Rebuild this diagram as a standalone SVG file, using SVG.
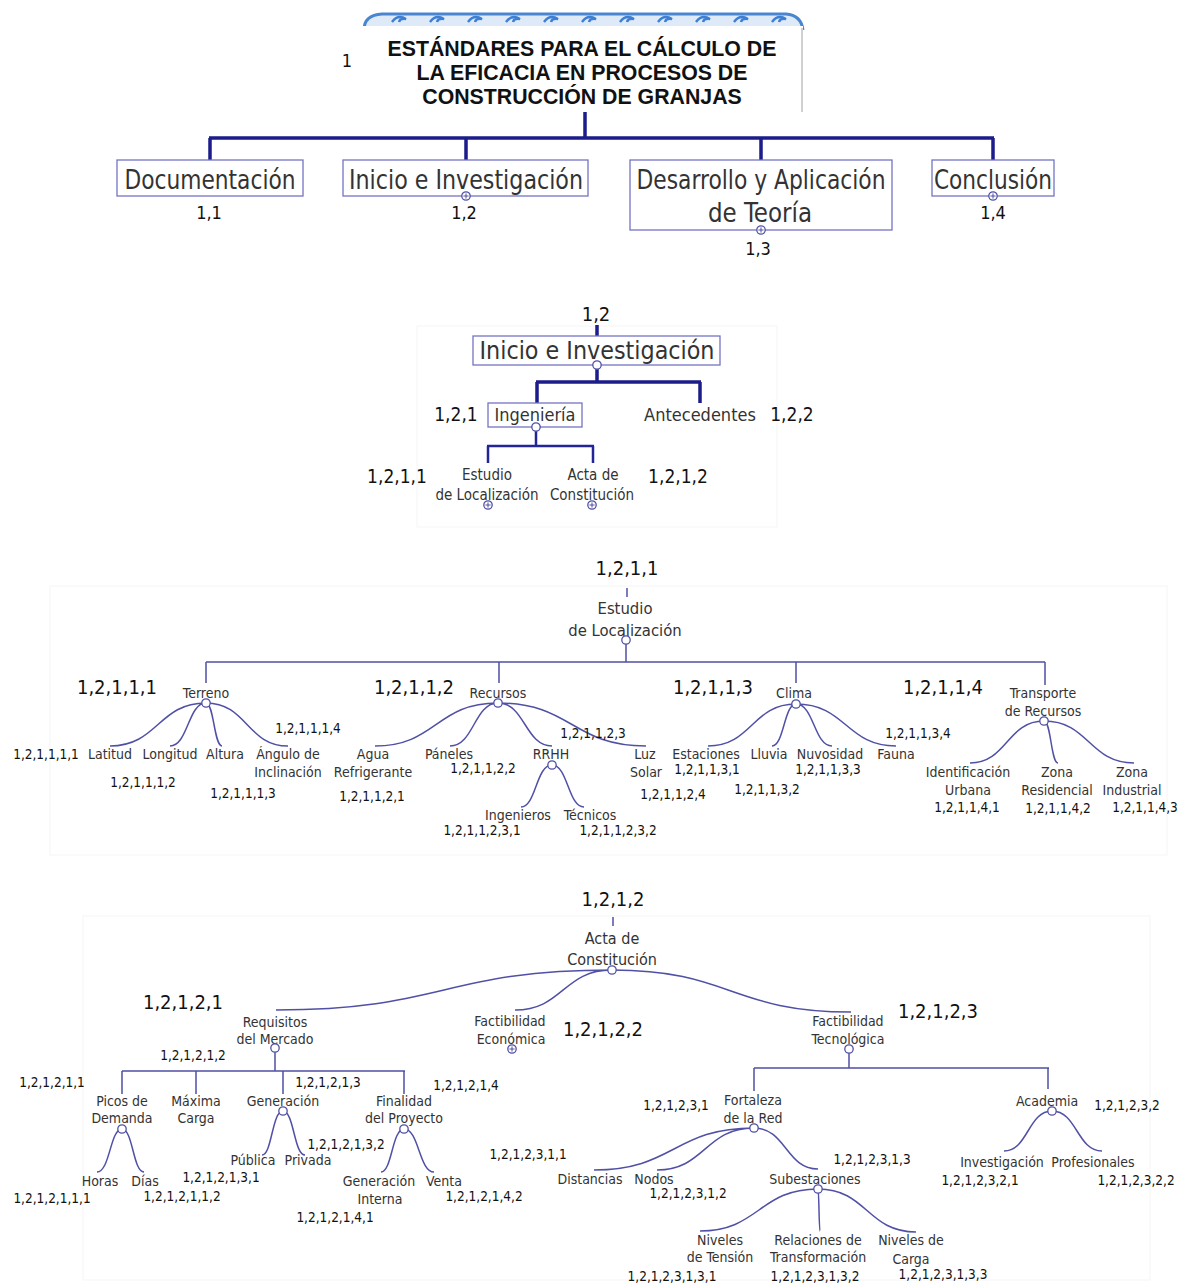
<svg xmlns="http://www.w3.org/2000/svg" width="1187" height="1288" viewBox="0 0 1187 1288">
<style>
.bg{fill:#ffffff}
.panel{fill:#ffffff;stroke:#f5f5f5;stroke-width:1}
.t{font-family:"DejaVu Sans Condensed","DejaVu Sans",sans-serif;fill:#333333;text-anchor:middle}
.n{font-family:"DejaVu Sans Condensed","DejaVu Sans",sans-serif;fill:#111111;text-anchor:middle}
.box{fill:#ffffff;stroke:#7474c4;stroke-width:1.3}
.thick{fill:none;stroke:#1c1c8a;stroke-width:3.5}
.mid{fill:none;stroke:#24249a;stroke-width:2.5}
.thin{fill:none;stroke:#5050a6;stroke-width:1.5}
.dot{fill:#ffffff;stroke:#5050a6;stroke-width:1.3}
.plus{fill:none;stroke:#5050a6;stroke-width:1}
.title{font-family:"Liberation Sans",Arial,sans-serif;font-weight:bold;font-size:21.3px;fill:#111;text-anchor:middle}
.s14{font-size:14px}
.s13{font-size:13.5px}
.s20{font-size:20px}
</style>
<defs>
<g id="pl"><circle r="4.2" class="dot"/><path d="M-2.6,0H2.6M0,-2.6V2.6" class="plus"/></g>
<g id="oc"><circle r="4.2" class="dot"/></g>
</defs>
<rect class="bg" x="0" y="0" width="1187" height="1288"/>

<!-- panels -->
<rect class="panel" x="417" y="326" width="360" height="201"/>
<rect class="panel" x="50" y="586" width="1117" height="269"/>
<rect class="panel" x="83" y="916" width="1067" height="364"/>

<!-- connectors -->
<g id="connectors">
<path class="thick" d="M585,112V138M209,138H994M210,138V160M466,138V160M761,138V160M993,138V160"/>
<path class="thick" d="M597,325V336"/>
<path class="thick" d="M597,369V382M536,382H701M537,382V403M700,382V403"/>
<path class="mid" d="M536,431V446M487,446H594M488,446V463M593,446V463"/>
<!-- section 3 -->
<path class="thin" d="M627,588V597"/>
<path class="thin" d="M626,644V662M206,662H1045M206,662V683M499,662V683M796,662V683M1045,662V685"/>
<path class="thin" d="M206,703C158,703 158,746 110,746M206,703C188,703 188,746 170,746M206,703C214,703 214,746 222,746M206,703C247,703 247,746 288,746"/>
<path class="thin" d="M498,703C436,703 436,746 375,746M498,703C474,703 474,746 450,746M498,703C525,703 525,746 552,746M498,703C572,703 572,746 646,746"/>
<path class="thin" d="M552,765C536,765 536,807 521,807M552,765C568,765 568,807 584,807"/>
<path class="thin" d="M796,704C752,704 752,746 708,746M796,704C784,704 784,746 772,746M796,704C814,704 814,746 832,746M796,704C846,704 846,746 896,746"/>
<path class="thin" d="M1044,721C1007,721 1007,763 970,763M1044,721C1051,721 1051,763 1058,763M1044,721C1089,721 1089,763 1134,763"/>
<!-- section 4 -->
<path class="thin" d="M613,917V926"/>
<path class="thin" d="M612,970C444,970 444,1010 276,1010M612,970C563,970 563,1010 515,1010M612,970C731,970 731,1012 851,1012"/>
<path class="thin" d="M275,1052V1071M122,1071H405M122,1071V1094M196,1071V1094M283,1071V1094M404,1071V1094"/>
<path class="thin" d="M122,1129C110,1129 110,1172 97,1172M122,1129C133,1129 133,1172 144,1172"/>
<path class="thin" d="M283,1111C272,1111 272,1155 262,1155M283,1111C294,1111 294,1155 305,1155"/>
<path class="thin" d="M404,1129C392,1129 392,1172 381,1172M404,1129C419,1129 419,1172 434,1172"/>
<path class="thin" d="M849,1053V1068M754,1068H1049M754,1068V1091M1048,1068V1089"/>
<path class="thin" d="M754,1128C674,1128 674,1170 594,1170M754,1128C705,1128 705,1170 657,1170M754,1128C786,1128 786,1169 818,1169"/>
<path class="thin" d="M818,1189C759,1189 759,1231 700,1231M818,1189C819,1189 819,1231 820,1231M818,1189C867,1189 867,1232 916,1232"/>
<path class="thin" d="M1052,1111C1028,1111 1028,1151 1004,1151M1052,1111C1077,1111 1077,1151 1102,1151"/>
</g>

<!-- title -->
<g id="n-title">
<path d="M364,30Q364,15 382,14H786Q801,15 803,30" fill="#dfeaf8" stroke="#4a86d0" stroke-width="3"/>
<g fill="none" stroke="#3d7fd4" stroke-width="2.4">
<path d="M392,22q6,-8 14,-3q-6,-1 -7,3"/><path d="M430,22q6,-8 14,-3q-6,-1 -7,3"/><path d="M468,22q6,-8 14,-3q-6,-1 -7,3"/><path d="M506,22q6,-8 14,-3q-6,-1 -7,3"/><path d="M544,22q6,-8 14,-3q-6,-1 -7,3"/><path d="M582,22q6,-8 14,-3q-6,-1 -7,3"/><path d="M620,22q6,-8 14,-3q-6,-1 -7,3"/><path d="M658,22q6,-8 14,-3q-6,-1 -7,3"/><path d="M696,22q6,-8 14,-3q-6,-1 -7,3"/><path d="M734,22q6,-8 14,-3q-6,-1 -7,3"/><path d="M772,22q6,-8 14,-3q-6,-1 -7,3"/>
</g>
<rect x="362" y="26" width="441" height="86" fill="#ffffff"/>
<path d="M802,28V112" stroke="#d0d0d0" stroke-width="2"/>
<text class="title" x="582" y="56">ESTÁNDARES PARA EL CÁLCULO DE</text>
<text class="title" x="582" y="80">LA EFICACIA EN PROCESOS DE</text>
<text class="title" x="582" y="104">CONSTRUCCIÓN DE GRANJAS</text>
<text class="n" x="347" y="67" style="font-size:18px">1</text>
</g>

<!-- level 1 -->
<g id="n-1-1"><rect class="box" x="117" y="160" width="186" height="36"/><text class="t" x="210" y="189" style="font-size:27px" textLength="171" lengthAdjust="spacingAndGlyphs">Documentación</text><text class="n" x="209" y="219" style="font-size:18px">1,1</text></g>
<g id="n-1-2"><rect class="box" x="343" y="160" width="245" height="36"/><text class="t" x="466" y="189" style="font-size:27px" textLength="234" lengthAdjust="spacingAndGlyphs">Inicio e Investigación</text><use href="#pl" x="466" y="196"/><text class="n" x="464" y="219" style="font-size:18px">1,2</text></g>
<g id="n-1-3"><rect class="box" x="630" y="160" width="262" height="70"/><text class="t" x="761" y="189" style="font-size:27px" textLength="249" lengthAdjust="spacingAndGlyphs">Desarrollo y Aplicación</text><text class="t" x="760" y="222" style="font-size:27px" textLength="104" lengthAdjust="spacingAndGlyphs">de Teoría</text><use href="#pl" x="761" y="230"/><text class="n" x="758" y="255" style="font-size:18px">1,3</text></g>
<g id="n-1-4"><rect class="box" x="932" y="160" width="122" height="36"/><text class="t" x="993" y="189" style="font-size:27px" textLength="118" lengthAdjust="spacingAndGlyphs">Conclusión</text><use href="#pl" x="993" y="196"/><text class="n" x="993" y="219" style="font-size:18px">1,4</text></g>

<!-- section 2 -->
<g id="n-s2-root"><text class="n" x="596" y="321" style="font-size:20px">1,2</text><rect class="box" x="473" y="336" width="247" height="29"/><text class="t" x="597" y="359" style="font-size:25px" textLength="235" lengthAdjust="spacingAndGlyphs">Inicio e Investigación</text><use href="#oc" x="597" y="365"/></g>
<g id="n-1-2-1"><rect class="box" x="488" y="403" width="94" height="24"/><text class="t" x="535" y="421" style="font-size:18px">Ingeniería</text><use href="#oc" x="536" y="427"/><text class="n" x="456" y="421" style="font-size:19px">1,2,1</text></g>
<g id="n-1-2-2"><text class="t" x="700" y="421" style="font-size:18px">Antecedentes</text><text class="n" x="792" y="421" style="font-size:19px">1,2,2</text></g>
<g id="n-1-2-1-1"><text class="t" x="487" y="480" style="font-size:15px">Estudio</text><text class="t" x="487" y="500" style="font-size:15px">de Localización</text><use href="#pl" x="488" y="505"/><text class="n" x="397" y="483" style="font-size:19px">1,2,1,1</text></g>
<g id="n-1-2-1-2"><text class="t" x="593" y="480" style="font-size:15px">Acta de</text><text class="t" x="592" y="500" style="font-size:15px">Constitución</text><use href="#pl" x="592" y="505"/><text class="n" x="678" y="483" style="font-size:19px">1,2,1,2</text></g>

<!-- section 3 -->
<g id="n-s3-root"><text class="n s20" x="627" y="575">1,2,1,1</text><text class="t" x="625" y="614" style="font-size:16.5px">Estudio</text><text class="t" x="625" y="636" style="font-size:16.5px">de Localización</text><use href="#oc" x="626" y="640"/></g>
<g id="n-terreno"><text class="n s20" x="117" y="694">1,2,1,1,1</text><text class="t s14" x="206" y="698">Terreno</text><use href="#oc" x="206" y="703"/></g>
<g id="n-latitud"><text class="n s13" x="46" y="759">1,2,1,1,1,1</text><text class="t s14" x="110" y="759">Latitud</text></g>
<g id="n-longitud"><text class="t s14" x="170" y="759">Longitud</text><text class="n s13" x="143" y="787">1,2,1,1,1,2</text></g>
<g id="n-altura"><text class="t s14" x="225" y="759">Altura</text><text class="n s13" x="243" y="798">1,2,1,1,1,3</text></g>
<g id="n-angulo"><text class="t s14" x="288" y="759">Ángulo de</text><text class="t s14" x="288" y="777">Inclinación</text><text class="n s13" x="308" y="733">1,2,1,1,1,4</text></g>
<g id="n-recursos"><text class="n s20" x="414" y="694">1,2,1,1,2</text><text class="t s14" x="498" y="698">Recursos</text><use href="#oc" x="498" y="703"/></g>
<g id="n-agua"><text class="t s14" x="373" y="759">Agua</text><text class="t s14" x="373" y="777">Refrigerante</text><text class="n s13" x="372" y="801">1,2,1,1,2,1</text></g>
<g id="n-paneles"><text class="t s14" x="449" y="759">Páneles</text><text class="n s13" x="483" y="773">1,2,1,1,2,2</text></g>
<g id="n-rrhh"><text class="t s14" x="551" y="759">RRHH</text><use href="#oc" x="552" y="765"/><text class="n s13" x="593" y="738">1,2,1,1,2,3</text></g>
<g id="n-ingenieros"><text class="t s14" x="518" y="820">Ingenieros</text><text class="n s13" x="482" y="835">1,2,1,1,2,3,1</text></g>
<g id="n-tecnicos"><text class="t s14" x="590" y="820">Técnicos</text><text class="n s13" x="618" y="835">1,2,1,1,2,3,2</text></g>
<g id="n-luz"><text class="t s14" x="645" y="759">Luz</text><text class="t s14" x="646" y="777">Solar</text><text class="n s13" x="673" y="799">1,2,1,1,2,4</text></g>
<g id="n-clima"><text class="n s20" x="713" y="694">1,2,1,1,3</text><text class="t s14" x="794" y="698">Clima</text><use href="#oc" x="796" y="704"/></g>
<g id="n-estaciones"><text class="t s14" x="706" y="759">Estaciones</text><text class="n s13" x="707" y="774">1,2,1,1,3,1</text></g>
<g id="n-lluvia"><text class="t s14" x="769" y="759">Lluvia</text><text class="n s13" x="767" y="794">1,2,1,1,3,2</text></g>
<g id="n-nuvosidad"><text class="t s14" x="830" y="759">Nuvosidad</text><text class="n s13" x="828" y="774">1,2,1,1,3,3</text></g>
<g id="n-fauna"><text class="t s14" x="896" y="759">Fauna</text><text class="n s13" x="918" y="738">1,2,1,1,3,4</text></g>
<g id="n-transporte"><text class="n s20" x="943" y="694">1,2,1,1,4</text><text class="t s14" x="1043" y="698">Transporte</text><text class="t s14" x="1043" y="716">de Recursos</text><use href="#oc" x="1044" y="721"/></g>
<g id="n-ident"><text class="t s14" x="968" y="777">Identificación</text><text class="t s14" x="968" y="795">Urbana</text><text class="n s13" x="967" y="812">1,2,1,1,4,1</text></g>
<g id="n-zonares"><text class="t s14" x="1057" y="777">Zona</text><text class="t s14" x="1057" y="795">Residencial</text><text class="n s13" x="1058" y="813">1,2,1,1,4,2</text></g>
<g id="n-zonaind"><text class="t s14" x="1132" y="777">Zona</text><text class="t s14" x="1132" y="795">Industrial</text><text class="n s13" x="1145" y="812">1,2,1,1,4,3</text></g>

<!-- section 4 -->
<g id="n-s4-root"><text class="n s20" x="613" y="906">1,2,1,2</text><text class="t" x="612" y="944" style="font-size:16px">Acta de</text><text class="t" x="612" y="965" style="font-size:16px">Constitución</text><use href="#oc" x="612" y="970"/></g>
<g id="n-requisitos"><text class="n s20" x="183" y="1009">1,2,1,2,1</text><text class="t s14" x="275" y="1027">Requisitos</text><text class="t s14" x="275" y="1044">del Mercado</text><use href="#oc" x="275" y="1048"/></g>
<g id="n-picos"><text class="n s13" x="52" y="1087">1,2,1,2,1,1</text><text class="t s14" x="122" y="1106">Picos de</text><text class="t s14" x="122" y="1123">Demanda</text><use href="#oc" x="122" y="1129"/></g>
<g id="n-horas"><text class="t s14" x="100" y="1186">Horas</text><text class="n s13" x="52" y="1203">1,2,1,2,1,1,1</text></g>
<g id="n-dias"><text class="t s14" x="145" y="1186">Días</text><text class="n s13" x="182" y="1201">1,2,1,2,1,1,2</text></g>
<g id="n-maxima"><text class="n s13" x="193" y="1060">1,2,1,2,1,2</text><text class="t s14" x="196" y="1106">Máxima</text><text class="t s14" x="196" y="1123">Carga</text></g>
<g id="n-generacion"><text class="n s13" x="328" y="1087">1,2,1,2,1,3</text><text class="t s14" x="283" y="1106">Generación</text><use href="#oc" x="283" y="1111"/></g>
<g id="n-publica"><text class="t s14" x="253" y="1165">Pública</text><text class="n s13" x="221" y="1182">1,2,1,2,1,3,1</text></g>
<g id="n-privada"><text class="t s14" x="308" y="1165">Privada</text><text class="n s13" x="346" y="1149">1,2,1,2,1,3,2</text></g>
<g id="n-finalidad"><text class="n s13" x="466" y="1090">1,2,1,2,1,4</text><text class="t s14" x="404" y="1106">Finalidad</text><text class="t s14" x="404" y="1123">del Proyecto</text><use href="#oc" x="404" y="1129"/></g>
<g id="n-geninterna"><text class="t s14" x="379" y="1186">Generación</text><text class="t s14" x="380" y="1204">Interna</text><text class="n s13" x="335" y="1222">1,2,1,2,1,4,1</text></g>
<g id="n-venta"><text class="t s14" x="444" y="1186">Venta</text><text class="n s13" x="484" y="1201">1,2,1,2,1,4,2</text></g>
<g id="n-factecon"><text class="t s14" x="510" y="1026">Factibilidad</text><text class="t s14" x="511" y="1044">Económica</text><use href="#pl" x="512" y="1049"/><text class="n s20" x="603" y="1036">1,2,1,2,2</text></g>
<g id="n-facttec"><text class="t s14" x="848" y="1026">Factibilidad</text><text class="t s14" x="848" y="1044">Tecnológica</text><use href="#oc" x="849" y="1049"/><text class="n s20" x="938" y="1018">1,2,1,2,3</text></g>
<g id="n-fortaleza"><text class="n s13" x="676" y="1110">1,2,1,2,3,1</text><text class="t s14" x="753" y="1105">Fortaleza</text><text class="t s14" x="753" y="1123">de la Red</text><use href="#oc" x="754" y="1128"/></g>
<g id="n-distancias"><text class="n s13" x="528" y="1159">1,2,1,2,3,1,1</text><text class="t s14" x="590" y="1184">Distancias</text></g>
<g id="n-nodos"><text class="t s14" x="654" y="1184">Nodos</text><text class="n s13" x="688" y="1198">1,2,1,2,3,1,2</text></g>
<g id="n-subest"><text class="n s13" x="872" y="1164">1,2,1,2,3,1,3</text><text class="t s14" x="815" y="1184">Subestaciones</text><use href="#oc" x="818" y="1189"/></g>
<g id="n-nivtension"><text class="t s14" x="720" y="1245">Niveles</text><text class="t s14" x="720" y="1262">de Tensión</text><text class="n s13" x="672" y="1281">1,2,1,2,3,1,3,1</text></g>
<g id="n-relaciones"><text class="t s14" x="818" y="1245">Relaciones de</text><text class="t s14" x="818" y="1262">Transformación</text><text class="n s13" x="815" y="1281">1,2,1,2,3,1,3,2</text></g>
<g id="n-nivcarga"><text class="t s14" x="911" y="1245">Niveles de</text><text class="t s14" x="911" y="1264">Carga</text><text class="n s13" x="943" y="1279">1,2,1,2,3,1,3,3</text></g>
<g id="n-academia"><text class="t s14" x="1047" y="1106">Academia</text><use href="#oc" x="1052" y="1111"/><text class="n s13" x="1127" y="1110">1,2,1,2,3,2</text></g>
<g id="n-investigacion"><text class="t s14" x="1002" y="1167">Investigación</text><text class="n s13" x="980" y="1185">1,2,1,2,3,2,1</text></g>
<g id="n-profesionales"><text class="t s14" x="1093" y="1167">Profesionales</text><text class="n s13" x="1136" y="1185">1,2,1,2,3,2,2</text></g>
</svg>
